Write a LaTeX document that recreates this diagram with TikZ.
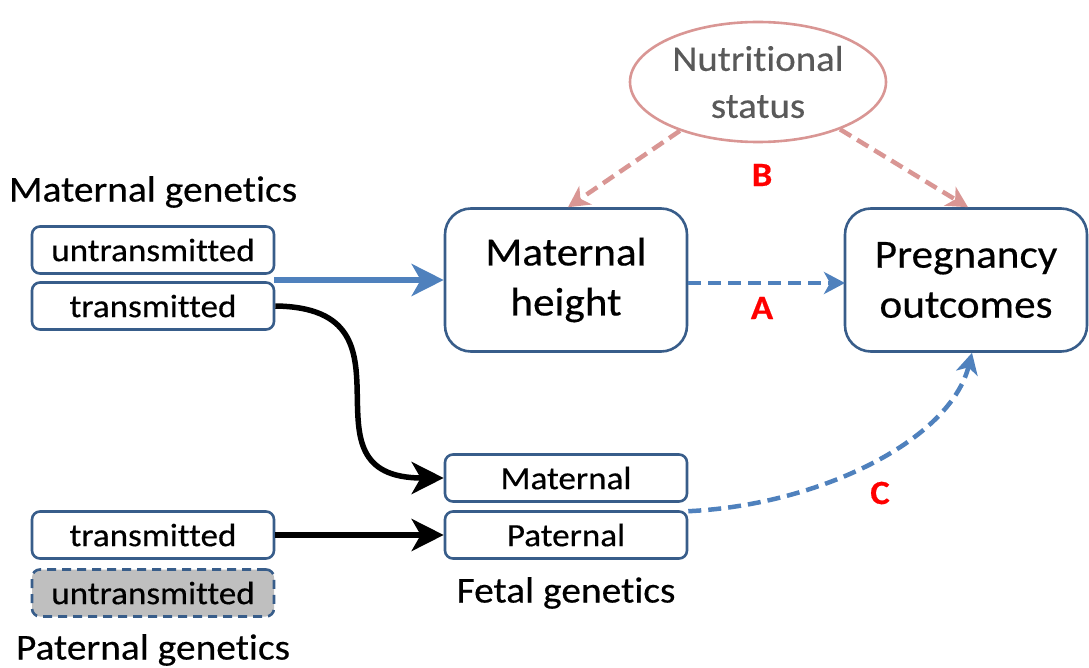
\documentclass[tikz,border=0pt]{standalone}
\usepackage{fontspec}
\setmainfont{Carlito}[FakeStretch=1.08,Ligatures=NoCommon,FakeBold=0.4]
\usetikzlibrary{arrows.meta,shapes.geometric}
\definecolor{boxblue}{RGB}{56,93,138}
\definecolor{arrblue}{RGB}{79,129,189}
\definecolor{pinkc}{RGB}{217,150,148}
\definecolor{grayt}{RGB}{89,89,89}
\definecolor{grayfill}{RGB}{191,191,191}
\tikzset{
  smallbox/.style={draw=boxblue,line width=2.6pt,rounded corners=8pt,minimum width=242pt,minimum height=47pt,inner sep=0pt,font=\fontsize{32.5}{32.5}\selectfont,fill=white},
  bigbox/.style={draw=boxblue,line width=2.6pt,rounded corners=26pt,minimum width=242pt,minimum height=143pt,inner sep=0pt,align=center,font=\fontsize{40}{50}\selectfont},
  grouplabel/.style={font=\fontsize{36.5}{36.5}\selectfont,inner sep=0pt},
  letter/.style={text=red,font=\fontsize{34}{34}\selectfont\bfseries,inner sep=0pt},
  solidarr/.style={line width=5.5pt,-{Stealth[length=32pt,width=32pt,inset=9pt]}},
  dasharr/.style={line width=4.5pt,dash pattern=on 13pt off 7pt,-{Stealth[length=21pt,width=22pt,inset=6pt]}},
}
\begin{document}
\begin{tikzpicture}[x=1pt,y=-1pt]
\useasboundingbox (0,0) rectangle (1089,668);
% nodes
\node[grouplabel] (mg) at (153,192) {Maternal genetics};
\node[smallbox] (mu) at (153,250) {untransmitted};
\node[smallbox] (mt) at (153,306) {transmitted};
\node[smallbox] (pt) at (153,535) {transmitted};
\node[smallbox,fill=grayfill,dashed,dash pattern=on 9pt off 6pt] (pu) at (153,593) {untransmitted};
\node[grouplabel] (pg) at (153,650) {Paternal genetics};
\node[bigbox] (mh) at (566,280) {Maternal\\height};
\node[bigbox] (po) at (966,280) {Pregnancy\\outcomes};
\node[smallbox] (fm) at (566,478) {Maternal};
\node[smallbox] (fp) at (566,535) {Paternal};
\node[grouplabel] (fg) at (566,593) {Fetal genetics};
\node[ellipse,draw=pinkc,line width=2.6pt,minimum width=256pt,minimum height=120pt,inner sep=0pt,align=center,text=grayt,font=\fontsize{36}{47}\selectfont] (ns) at (758,82) {Nutritional\\status};
\node[letter] (la) at (762,308) {A};
\node[letter] (lb) at (762,175) {B};
\node[letter] (lc) at (880,493) {C};
% connectors
\draw[solidarr,arrblue] (274,280) -- (mh.west);
\draw[solidarr,black] (mt.east) .. controls (430,308) and (290,478) .. (fm.west);
\draw[solidarr,black] (pt.east) -- (fp.west);
\draw[dasharr,arrblue] (688,283) -- (845,283);
\draw[dasharr,pinkc] (ns.212) -- ([xshift=2pt]mh.north);
\draw[dasharr,pinkc] (ns.330) -- ([xshift=2pt]po.north);
\draw[dasharr,arrblue] ([yshift=-1pt]fp.north east) .. controls (820,505) and (950,440) .. ([xshift=6pt]po.south);
\end{tikzpicture}
\end{document}
